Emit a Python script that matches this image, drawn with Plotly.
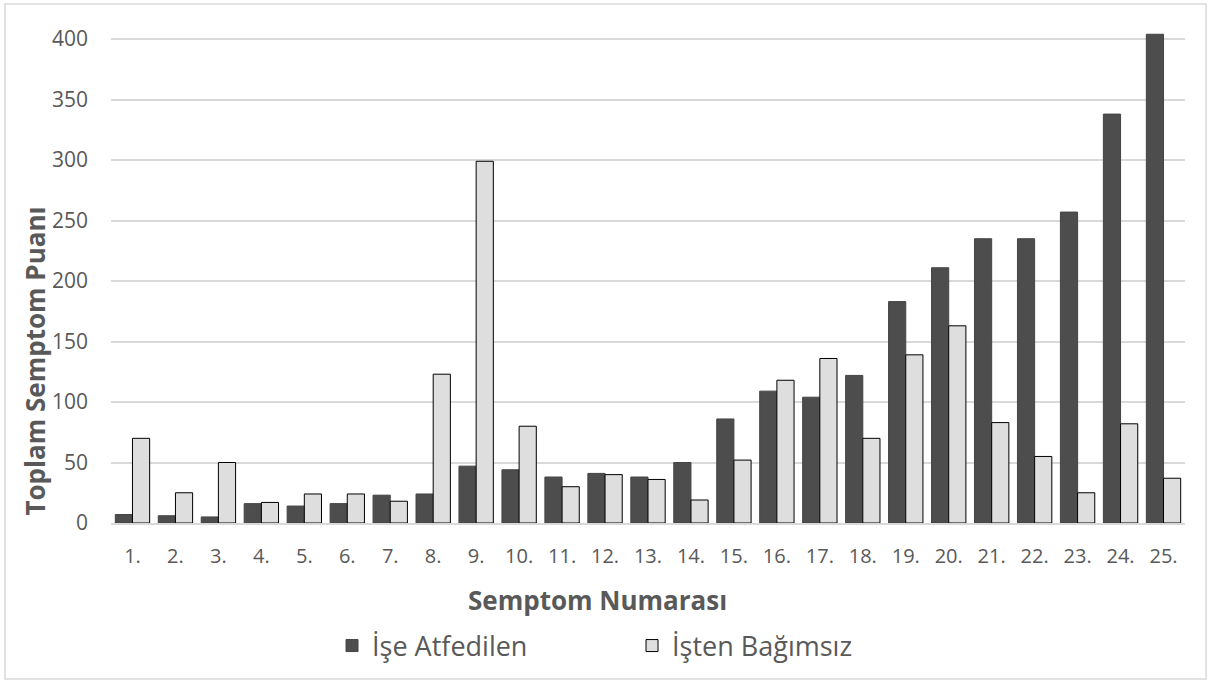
import plotly.graph_objects as go

categories = [f"{i}." for i in range(1, 26)]
ise_atfedilen = [7, 6, 5, 16, 14, 16, 23, 24, 47, 44, 38, 41, 38, 50, 86, 109, 104, 122, 183, 211, 235, 235, 257, 338, 404]
isten_bagimsiz = [70, 25, 50, 17, 24, 24, 18, 123, 299, 80, 30, 40, 36, 19, 52, 118, 136, 70, 139, 163, 83, 55, 25, 82, 37]
y_ticks = [0, 50, 100, 150, 200, 250, 300, 350, 400]
x_title = "Semptom Numarası"
y_title = "Toplam Semptom Puanı"

FONT = "Open Sans"
GRAY = "#595959"

fig = go.Figure()
fig.add_trace(go.Bar(
    x=categories, y=ise_atfedilen, name="İşe Atfedilen",
    marker=dict(color="#4d4d4d", line=dict(color="#444444", width=1)),
))
fig.add_trace(go.Bar(
    x=categories, y=isten_bagimsiz, name="İşten Bağımsız",
    marker=dict(color="#dedede", line=dict(color="#000000", width=1)),
))

fig.update_layout(
    width=1211, height=684,
    paper_bgcolor="white", plot_bgcolor="white",
    margin=dict(l=111, r=26, t=27, b=161),
    barmode="group", bargap=0.2, bargroupgap=0,
    font=dict(family=FONT, color=GRAY, size=20),
    xaxis=dict(
        type="category", tickfont=dict(size=20, color=GRAY),
        ticklabelstandoff=14,
        showline=True, linecolor="#d9d9d9", linewidth=1.5, ticks="", showgrid=False,
    ),
    yaxis=dict(
        range=[0, 410], tickvals=y_ticks, ticktext=[str(v) for v in y_ticks],
        tickfont=dict(size=21, color=GRAY),
        gridcolor="#d9d9d9", gridwidth=1.5, zeroline=False, showline=False, ticks="",
        ticklabelstandoff=22,
    ),
    legend=dict(
        orientation="h", x=0.2058, xanchor="left", y=-0.248, yanchor="middle",
        font=dict(size=27, color=GRAY, family=FONT),
        entrywidth=255, entrywidthmode="pixels", itemwidth=30,
    ),
    annotations=[
        dict(text=f"<b>{x_title}</b>", xref="paper", yref="paper", x=0.4534, y=-0.1552,
             xanchor="center", yanchor="middle", showarrow=False,
             font=dict(size=26, color=GRAY, family=FONT)),
        dict(text=f"<b>{y_title}</b>", xref="paper", yref="paper", x=-0.0712, y=0.3266,
             xanchor="center", yanchor="middle", showarrow=False, textangle=-90,
             font=dict(size=26, color=GRAY, family=FONT)),
    ],
    shapes=[dict(type="rect", xref="paper", yref="paper", x0=-0.0987, x1=1.0196, y0=-0.3145, y1=1.0464,
                 line=dict(color="#d9d9d9", width=1.5), fillcolor="rgba(0,0,0,0)", layer="below")],
)

fig.write_html("out.html")
